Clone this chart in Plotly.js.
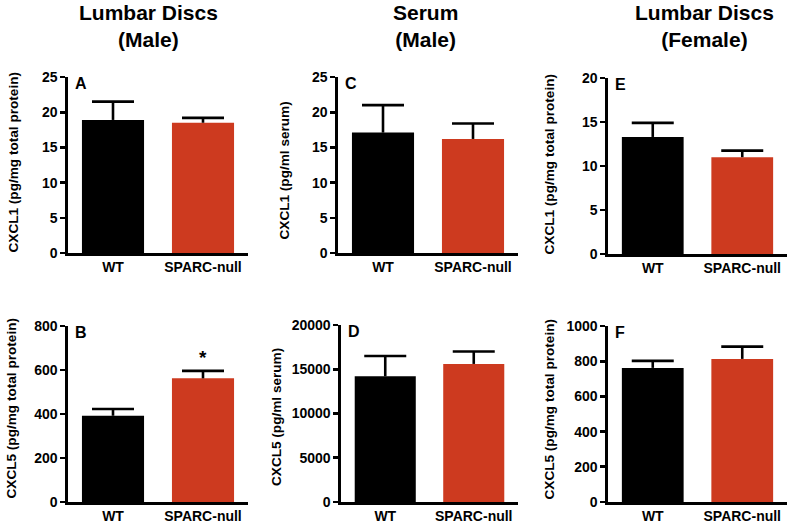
<!DOCTYPE html>
<html>
<head>
<meta charset="utf-8">
<script src="https://cdn.plot.ly/plotly-3.0.1.min.js"></script>
<style>html,body{margin:0;padding:0;background:#fff;}#chart{width:790px;height:523px;}</style>
</head>
<body>
<div id="chart"></div>
<script>
// ---- data ----
const groups = ['WT', 'SPARC-null'];
// CXCL1
const cxcl1DiscMale = [18.9, 18.5];
const cxcl1DiscMaleSEM = [2.6, 0.7];
const cxcl1SerumMale = [17.1, 16.2];
const cxcl1SerumMaleSEM = [3.9, 2.2];
const cxcl1DiscFemale = [13.3, 11.0];
const cxcl1DiscFemaleSEM = [1.6, 0.75];
// CXCL5
const cxcl5DiscMale = [392, 562];
const cxcl5DiscMaleSEM = [31, 34];
const cxcl5SerumMale = [14200, 15600];
const cxcl5SerumMaleSEM = [2300, 1400];
const cxcl5DiscFemale = [762, 813];
const cxcl5DiscFemaleSEM = [40, 70];

const columnTitles = ['Lumbar Discs<br>(Male)', 'Serum<br>(Male)', 'Lumbar Discs<br>(Female)'];
const panelLetters = ['A', 'C', 'E', 'B', 'D', 'F'];
const yTitles = [
  'CXCL1 (pg/mg total protein)', 'CXCL1 (pg/ml serum)', 'CXCL1 (pg/mg total protein)',
  'CXCL5 (pg/mg total protein)', 'CXCL5 (pg/ml serum)', 'CXCL5 (pg/mg total protein)'
];
const yMax = [25, 25, 20, 800, 20000, 1000];
const yDtick = [5, 5, 5, 200, 5000, 200];

// ---- layout helpers ----
const W = 790, H = 523;
const FONT = 'Liberation Sans, Arial, Helvetica, sans-serif';
const barColors = ['#000000', '#cd3a1f'];
const panels = [
  {vals: cxcl1DiscMale, err: cxcl1DiscMaleSEM, x: [68, 248], y: [77, 253]},
  {vals: cxcl1SerumMale, err: cxcl1SerumMaleSEM, x: [338, 518], y: [77, 253]},
  {vals: cxcl1DiscFemale, err: cxcl1DiscFemaleSEM, x: [608, 787], y: [78, 254]},
  {vals: cxcl5DiscMale, err: cxcl5DiscMaleSEM, x: [68, 248], y: [326, 502]},
  {vals: cxcl5SerumMale, err: cxcl5SerumMaleSEM, x: [341, 518], y: [325, 502]},
  {vals: cxcl5DiscFemale, err: cxcl5DiscFemaleSEM, x: [608, 787], y: [326, 502]}
];
const yTitlePos = [[12.5, 163], [283.5, 171], [549, 164.5], [11, 408.5], [276, 417], [549, 409.5]];
const titlePos = [[148, 26], [425, 26], [704, 26]];

const px = v => v / W;
const py = v => 1 - v / H;

const traces = [];
const layout = {
  width: W, height: H,
  margin: {l: 0, r: 0, t: 0, b: 0},
  paper_bgcolor: '#fff', plot_bgcolor: '#fff',
  showlegend: false,
  bargap: 0.31,
  annotations: []
};

const LW = 2.6;

panels.forEach((p, i) => {
  const k = i === 0 ? '' : String(i + 1);
  // bars with an upward error stem (no caps)
  traces.push({
    type: 'bar',
    x: groups,
    y: p.vals,
    xaxis: 'x' + k, yaxis: 'y' + k,
    marker: {color: barColors, line: {width: 0}},
    error_y: {type: 'data', symmetric: false, array: p.err, arrayminus: [0, 0],
              color: '#000', thickness: LW, width: 0},
    hoverinfo: 'skip'
  });
  // error-bar caps at mean + SEM
  traces.push({
    type: 'scatter', mode: 'markers',
    x: groups,
    y: p.vals.map((v, j) => v + p.err[j]),
    xaxis: 'x' + k, yaxis: 'y' + k,
    marker: {symbol: 'line-ew-open', size: 30, color: '#000', line: {color: '#000', width: LW}},
    cliponaxis: false,
    hoverinfo: 'skip'
  });
  layout['xaxis' + k] = {
    domain: [px(p.x[0]), px(p.x[1])],
    anchor: 'y' + k,
    type: 'category',
    range: [-0.5, 1.5],
    showline: true, linecolor: '#000', linewidth: LW,
    ticks: '', showgrid: false, zeroline: false,
    tickfont: {family: FONT, size: 14, color: '#000', weight: 'bold'},
    fixedrange: true
  };
  layout['yaxis' + k] = {
    domain: [py(p.y[1]), py(p.y[0])],
    anchor: 'x' + k,
    range: [0, yMax[i]],
    tick0: 0, dtick: yDtick[i], tickformat: 'd',
    showline: true, linecolor: '#000', linewidth: LW,
    ticks: 'outside', ticklen: 5, tickwidth: LW, tickcolor: '#000',
    showgrid: false, zeroline: false,
    tickfont: {family: FONT, size: 14, color: '#000', weight: 'bold'},
    fixedrange: true
  };
  // y-axis title
  layout.annotations.push({
    xref: 'paper', yref: 'paper',
    x: px(yTitlePos[i][0]), y: py(yTitlePos[i][1]),
    xanchor: 'center', yanchor: 'middle',
    text: '<b>' + yTitles[i] + '</b>', textangle: -90, showarrow: false,
    font: {family: FONT, size: 13.6, color: '#000'}
  });
  // panel letter
  layout.annotations.push({
    xref: 'paper', yref: 'paper',
    x: px(p.x[0] + 5), y: py(p.y[0] + 6),
    xanchor: 'left', yanchor: 'middle',
    text: '<b>' + panelLetters[i] + '</b>', showarrow: false,
    font: {family: FONT, size: 16, color: '#000'}
  });
});

// column titles
columnTitles.forEach((t, j) => {
  layout.annotations.push({
    xref: 'paper', yref: 'paper',
    x: px(titlePos[j][0]), y: py(titlePos[j][1]),
    xanchor: 'center', yanchor: 'middle',
    text: '<b>' + t + '</b>', showarrow: false,
    font: {family: FONT, size: 21, color: '#000'}
  });
});

// significance asterisk on panel B (SPARC-null)
layout.annotations.push({
  xref: 'x4', yref: 'y4',
  x: groups[1], y: cxcl5DiscMale[1] + cxcl5DiscMaleSEM[1],
  xanchor: 'center', yanchor: 'bottom', yshift: 1,
  text: '<b>*</b>', showarrow: false,
  font: {family: FONT, size: 19, color: '#000'}
});

Plotly.newPlot('chart', traces, layout, {displayModeBar: false, staticPlot: true});
</script>
</body>
</html>
